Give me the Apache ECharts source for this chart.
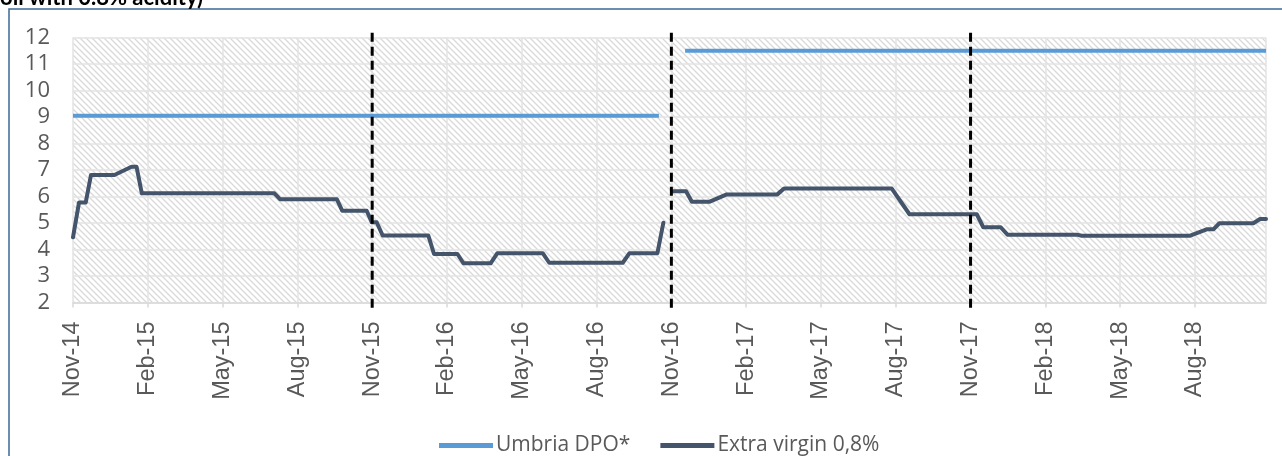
<!DOCTYPE html>
<html lang="en">
<head>
    <meta charset="UTF-8">
    <title>Umbria DPO vs Extra virgin 0,8%</title>
    <script src="https://cdn.jsdelivr.net/npm/echarts@6/dist/echarts.min.js"></script>
    <style>
        html, body { margin: 0; padding: 0; background: #fff; }
    </style>
</head>
<body>
    <div id="main" style="width: 1282px;height:456px;"></div>
    <script>
        // x = months since Nov-14
        var tickLabels = ['Nov-14', 'Feb-15', 'May-15', 'Aug-15', 'Nov-15', 'Feb-16', 'May-16', 'Aug-16',
                          'Nov-16', 'Feb-17', 'May-17', 'Aug-17', 'Nov-17', 'Feb-18', 'May-18', 'Aug-18'];

        var umbriaMonths = [0, 23.5, 24, 24.55, 47.85];
        var umbriaValues = [9.05, 9.05, null, 11.5, 11.5];

        var evMonths = [0, 0.24, 0.51, 0.72, 1.66, 2.35, 2.55, 2.76, 8.08, 8.3,
                        10.58, 10.8, 11.78, 11.98, 12.18, 12.42, 14.25, 14.48, 15.42, 15.66,
                        16.75, 17.02, 18.84, 19.1, 22.05, 22.32, 23.44, 23.68, 23.9, 24.08,
                        24.59, 24.82, 25.52, 26.22, 28.25, 28.52, 32.84, 33.55, 36.25, 36.51,
                        37.21, 37.48, 40.26, 40.46, 44.81, 45.47, 45.74, 45.98, 47.34, 47.61, 47.85];
        var evValues = [4.46, 5.77, 5.77, 6.81, 6.81, 7.12, 7.12, 6.12, 6.12, 5.9,
                        5.9, 5.46, 5.46, 5.03, 5.03, 4.53, 4.53, 3.83, 3.83, 3.48,
                        3.48, 3.86, 3.86, 3.5, 3.5, 3.86, 3.86, 5.01, null, 6.2,
                        6.2, 5.8, 5.8, 6.08, 6.08, 6.3, 6.3, 5.33, 5.33, 4.84,
                        4.84, 4.56, 4.56, 4.52, 4.52, 4.76, 4.76, 4.99, 4.99, 5.15, 5.15];

        // campaign separators (Nov of each year)
        var dividerMonths = [12, 24, 36];
        var dividerRange = [1.8, 12.2];

        function pairs(xs, ys) {
            var out = [];
            for (var i = 0; i < xs.length; i++) {
                out.push([xs[i], ys[i] === null ? '-' : ys[i]]);
            }
            return out;
        }

        // hatch pattern for the plot area
        var tile = document.createElement('canvas');
        tile.width = 6;
        tile.height = 6;
        var ctx = tile.getContext('2d');
        ctx.fillStyle = '#ffffff';
        ctx.fillRect(0, 0, 6, 6);
        ctx.strokeStyle = '#d9d9d9';
        ctx.lineWidth = 1.3;
        ctx.beginPath();
        ctx.moveTo(-1, -1); ctx.lineTo(7, 7);
        ctx.moveTo(-4, 2); ctx.lineTo(2, 8);
        ctx.moveTo(2, -4); ctx.lineTo(8, 2);
        ctx.stroke();

        var myChart = echarts.init(document.getElementById('main'));

        var series = [
            {
                name: 'Umbria DPO*',
                type: 'line',
                data: pairs(umbriaMonths, umbriaValues),
                symbol: 'none',
                connectNulls: false,
                lineStyle: { color: '#5b9bd5', width: 4 },
                itemStyle: { color: '#5b9bd5' },
                z: 3
            },
            {
                name: 'Extra virgin 0,8%',
                type: 'line',
                data: pairs(evMonths, evValues),
                symbol: 'none',
                connectNulls: false,
                lineStyle: { color: '#44546a', width: 4, cap: 'round', join: 'round' },
                itemStyle: { color: '#44546a' },
                z: 3
            }
        ];
        dividerMonths.forEach(function (m) {
            series.push({
                name: 'divider',
                type: 'line',
                data: [[m, dividerRange[0]], [m, dividerRange[1]]],
                symbol: 'none',
                clip: false,
                silent: true,
                lineStyle: { color: '#000', width: 3, type: [9, 5] },
                z: 4
            });
        });

        var option = {
            animation: false,
            graphic: [
                {
                    type: 'rect',
                    shape: { x: 9, y: 9, width: 1300, height: 470 },
                    style: { fill: 'none', stroke: '#3c6896', lineWidth: 1.5 },
                    silent: true
                },
                {
                    type: 'text',
                    x: 0,
                    y: 9,
                    style: {
                        text: 'oil with 0.8% acidity)',
                        font: 'bold 22px Lato',
                        fill: '#000',
                        verticalAlign: 'bottom'
                    }
                }
            ],
            grid: {
                left: 73,
                right: 16,
                top: 37.5,
                bottom: 153.5,
                show: true,
                borderWidth: 0,
                backgroundColor: { image: tile, repeat: 'repeat' }
            },
            legend: {
                data: ['Umbria DPO*', 'Extra virgin 0,8%'],
                top: 430,
                left: 434,
                itemWidth: 54,
                itemHeight: 5,
                itemGap: 30,
                icon: 'rect',
                textStyle: { fontFamily: 'Open Sans', fontSize: 21, color: '#595959', padding: [0, 0, 0, -2] }
            },
            xAxis: {
                type: 'value',
                min: 0,
                max: 47.85,
                interval: 3,
                axisLine: { lineStyle: { color: '#d9d9d9', width: 1.5 } },
                axisTick: { show: true, length: 5, lineStyle: { color: '#d9d9d9', width: 1.5 } },
                splitLine: { show: true, lineStyle: { color: '#e3e3e3', width: 1.5 } },
                axisLabel: {
                    rotate: 90,
                    margin: 19,
                    showMaxLabel: false,
                    fontFamily: 'Liberation Sans',
                    fontSize: 23.5,
                    color: '#595959',
                    formatter: function (v) {
                        var k = Math.round(v / 3);
                        if (Math.abs(v - k * 3) > 0.01) return '';
                        return tickLabels[k] || '';
                    }
                }
            },
            yAxis: {
                type: 'value',
                min: 2,
                max: 12,
                interval: 1,
                axisLine: { show: false },
                axisTick: { show: false },
                splitLine: { show: true, lineStyle: { color: '#e3e3e3', width: 1.5 } },
                axisLabel: {
                    margin: 23,
                    fontFamily: 'Open Sans',
                    fontSize: 22,
                    color: '#595959'
                }
            },
            series: series
        };
        myChart.setOption(option);
    </script>
</body>
</html>
